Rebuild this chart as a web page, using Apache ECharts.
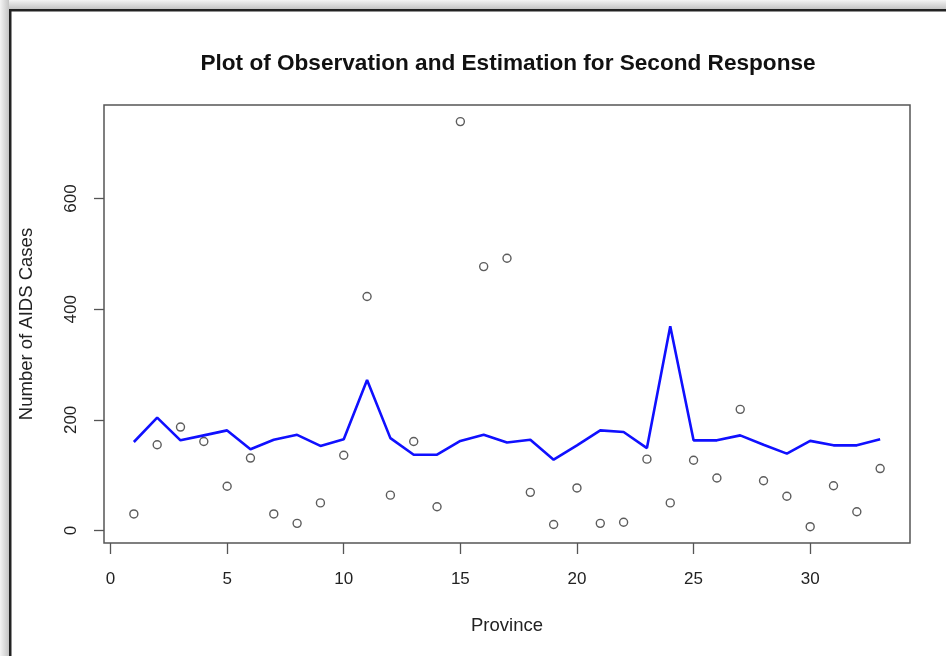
<!DOCTYPE html>
<html>
<head>
<meta charset="utf-8">
<script src="https://cdn.jsdelivr.net/npm/echarts@6/dist/echarts.min.js"></script>
<style>
html,body{margin:0;padding:0;background:#fff;}
#c{width:946px;height:656px;}
</style>
</head>
<body>
<div id="c"></div>
<script>
const provinces = [1,2,3,4,5,6,7,8,9,10,11,12,13,14,15,16,17,18,19,20,21,22,23,24,25,26,27,28,29,30,31,32,33];
const observed = [30,155,187,161,80,131,30,13,50,136,423,64,161,43,739,477,492,69,11,77,13,15,129,50,127,95,219,90,62,7,81,34,112];
const estimated = [160,204,163,172,181,147,164,173,153,165,272,167,137,137,162,173,159,164,128,154,181,178,149,369,163,163,172,155,139,162,154,154,165];
const xTicks = [0,5,10,15,20,25,30];
const yTicks = [0,200,400,600];

const obsData = provinces.map((p,i)=>[p,observed[i]]);
const estData = provinces.map((p,i)=>[p,estimated[i]]);

const font = "Liberation Sans, Arial, sans-serif";
const chart = echarts.init(document.getElementById('c'), null, {renderer:'canvas'});
chart.setOption({
  animation:false,
  backgroundColor:'#fff',
  title:{
    text:'Plot of Observation and Estimation for Second Response',
    left:503, top:47, textAlign:'center',
    textStyle:{fontFamily:font, fontWeight:'bold', fontSize:22.6, color:'#111'}
  },
  graphic:[
    {type:'rect', shape:{x:0,y:0,width:946,height:9}, style:{fill:new echarts.graphic.LinearGradient(0,0,0,1,[{offset:0,color:'#f4f4f4'},{offset:1,color:'#c4c4c4'}])}, silent:true},
    {type:'rect', shape:{x:0,y:0,width:9,height:656}, style:{fill:new echarts.graphic.LinearGradient(0,0,1,0,[{offset:0,color:'#f4f4f4'},{offset:1,color:'#c4c4c4'}])}, silent:true},
    {type:'rect', shape:{x:9,y:9,width:937,height:2.5}, style:{fill:'#222'}, silent:true},
    {type:'rect', shape:{x:9,y:9,width:2.5,height:647}, style:{fill:'#222'}, silent:true}
  ],
  grid:{left:104, top:105, right:36, bottom:113, show:true, borderColor:'#555', borderWidth:1.5, backgroundColor:'transparent'},
  xAxis:{
    type:'value', min:-0.28, max:34.28,
    name:'Province', nameLocation:'middle', nameGap:73,
    nameTextStyle:{fontFamily:font, fontSize:18.5, color:'#222'},
    axisLine:{show:false, onZero:false},
    axisTick:{show:true, length:11, inside:false, customValues:xTicks, lineStyle:{color:'#555', width:1.3}},
    axisLabel:{show:true, customValues:xTicks, margin:28, fontFamily:font, fontSize:17, color:'#222'},
    splitLine:{show:false}
  },
  yAxis:{
    type:'value', min:-22.5, max:769,
    name:'Number of AIDS Cases', nameLocation:'middle', nameGap:68, nameRotate:90,
    nameTextStyle:{fontFamily:font, fontSize:18.5, color:'#222'},
    axisLine:{show:false, onZero:false},
    axisTick:{show:true, length:10, inside:false, customValues:yTicks, lineStyle:{color:'#555', width:1.3}},
    axisLabel:{show:true, customValues:yTicks, rotate:90, margin:24, fontFamily:font, fontSize:17, color:'#222'},
    splitLine:{show:false}
  },
  series:[
    {type:'scatter', data:obsData, symbol:'circle', symbolSize:8,
     itemStyle:{color:'rgba(0,0,0,0)', borderColor:'#333', borderWidth:1.4}, z:2},
    {type:'line', data:estData, showSymbol:false, symbol:'none',
     lineStyle:{color:'#1010ff', width:2.6}, z:3}
  ]
});
</script>
</body>
</html>
